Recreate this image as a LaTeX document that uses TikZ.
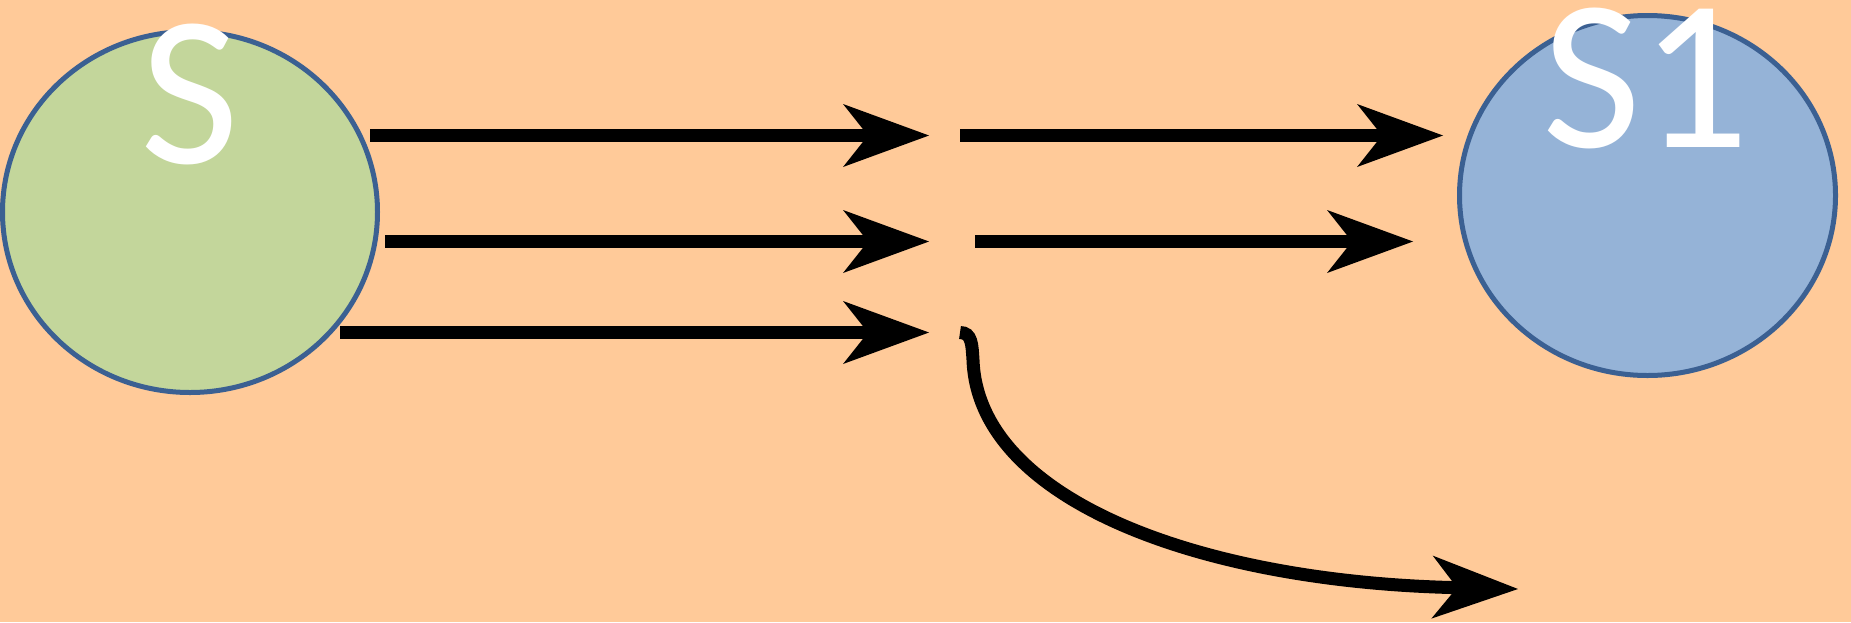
\documentclass[tikz,border=0pt]{standalone}
\usepackage{fontspec}
\setmainfont{Carlito}
\usetikzlibrary{arrows.meta,shapes.geometric}
\definecolor{bg}{HTML}{FFCA99}
\definecolor{sgreen}{HTML}{C3D69B}
\definecolor{sblue}{HTML}{95B3D7}
\definecolor{outl}{HTML}{3B6092}
\begin{document}
\begin{tikzpicture}[x=1pt,y=-1pt,
  state/.style={ellipse,draw=outl,line width=5pt,inner sep=0pt},
  lbl/.style={text=white,font=\fontsize{215}{215}\selectfont,anchor=base,inner sep=0pt},
  flow/.style={line width=13pt,-{Stealth[length=86pt,width=63pt,inset=25pt,line width=0pt]}}]
\fill[bg] (0,0) rectangle (1851,622);
\useasboundingbox (0,0) rectangle (1851,622);
\node[state,fill=sgreen,minimum width=375pt,minimum height=361pt] (s) at (190,212) {};
\node[state,fill=sblue,minimum width=376pt,minimum height=360pt] (s1) at (1647.5,195.5) {};
\node[lbl] (ls) at (190,163) {S};
\node[lbl] (ls1) at (1646,147) {S1};
% row 1
\coordinate (a1) at (370,135.5);
\coordinate (b1) at (929,135.5);
\coordinate (c1) at (960,135.5);
\coordinate (d1) at (1443,135.5);
% row 2
\coordinate (a2) at (385,241.5);
\coordinate (b2) at (929,241.5);
\coordinate (c2) at (975,241.5);
\coordinate (d2) at (1413,241.5);
% row 3
\coordinate (a3) at (340,332.5);
\coordinate (b3) at (929,332.5);
\coordinate (c3) at (960,332.5);
\coordinate (m3) at (973,360);
\coordinate (d3) at (1518,589);
\draw[flow] (a1) -- (b1);
\draw[flow] (c1) -- (d1);
\draw[flow] (a2) -- (b2);
\draw[flow] (c2) -- (d2);
\draw[flow] (a3) -- (b3);
\draw[flow] (c3) .. controls (972,332.5) and (972,345) .. (m3)
  .. controls (978,500) and (1200,582) .. (d3);
\end{tikzpicture}
\end{document}
